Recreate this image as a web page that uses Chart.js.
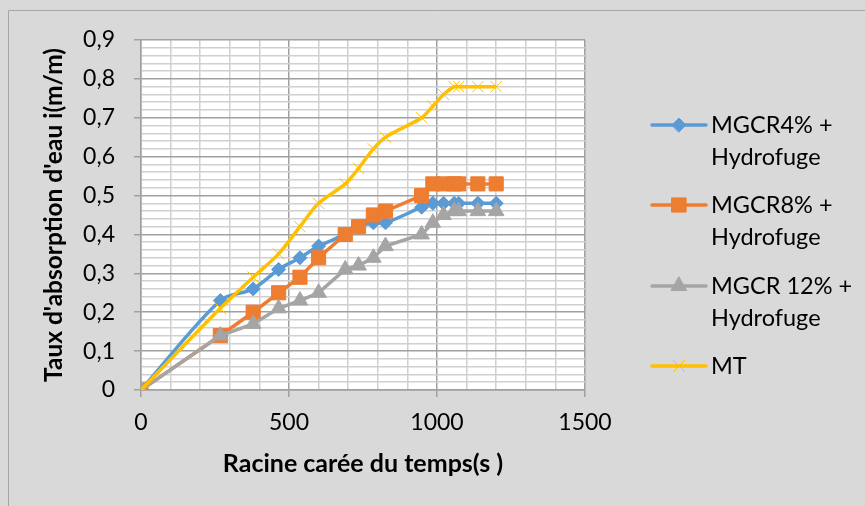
<!DOCTYPE html>
<html>
<head>
<meta charset="utf-8">
<script src="https://cdn.jsdelivr.net/npm/chart.js@4.4.1/dist/chart.umd.min.js"></script>
<style>
  html, body { margin: 0; padding: 0; background: #d9d9d9; }
  #wrap { width: 865px; height: 506px; position: relative; }
</style>
</head>
<body>
<div id="wrap"><canvas id="absChart"></canvas></div>
<script>
// square root of time (s^0.5)
const sqrtTime = [0, 268, 379, 465, 537, 600, 690, 735, 785, 826, 948, 986, 1022, 1058, 1073, 1138, 1200];

const mgcr4 = [0, 0.23, 0.26, 0.31, 0.34, 0.37, 0.40, 0.42, 0.43, 0.43, 0.47, 0.48, 0.48, 0.48, 0.48, 0.48, 0.48];
const mgcr8 = [0, 0.14, 0.20, 0.25, 0.29, 0.34, 0.40, 0.42, 0.45, 0.46, 0.50, 0.53, 0.53, 0.53, 0.53, 0.53, 0.53];
const mgcr12 = [0, 0.14, 0.17, 0.21, 0.23, 0.25, 0.31, 0.32, 0.34, 0.37, 0.40, 0.43, 0.45, 0.46, 0.46, 0.46, 0.46];
const mt = [0, 0.21, 0.29, 0.35, 0.42, 0.48, 0.53, 0.57, 0.62, 0.65, 0.70, 0.73, 0.76, 0.78, 0.78, 0.78, 0.78];

const seriesNames = [
  ["MGCR4% +", "Hydrofuge"],
  ["MGCR8% +", "Hydrofuge"],
  ["MGCR 12% +", "Hydrofuge"],
  ["MT"]
];

const FONT = "Lato, 'Open Sans', sans-serif";

function points(values) {
  return values.map((v, i) => ({ x: sqrtTime[i], y: v }));
}

function isMajorY(v) {
  return Math.abs(v * 10 - Math.round(v * 10)) < 1e-6;
}

// grey page, white plot area, thin frame on the top and left
const background = {
  id: "background",
  beforeDraw(chart) {
    const { ctx, chartArea: a } = chart;
    ctx.save();
    ctx.fillStyle = "#d9d9d9";
    ctx.fillRect(0, 0, chart.width, chart.height);
    ctx.strokeStyle = "#a6a6a6";
    ctx.lineWidth = 1;
    ctx.beginPath();
    ctx.moveTo(8.5, chart.height);
    ctx.lineTo(8.5, 10.5);
    ctx.lineTo(chart.width, 10.5);
    ctx.stroke();
    ctx.fillStyle = "#ffffff";
    ctx.fillRect(a.left, a.top, a.right - a.left, a.bottom - a.top);
    ctx.restore();
  }
};

// legend on the right, two-line labels
const sideLegend = {
  id: "sideLegend",
  afterDraw(chart) {
    const ctx = chart.ctx;
    const x0 = 652, x1 = 706, tx = 711;
    const rows = [125, 205, 286, 366];
    ctx.save();
    chart.data.datasets.forEach((ds, i) => {
      const y = rows[i];
      ctx.strokeStyle = ds.borderColor;
      ctx.lineWidth = ds.borderWidth;
      ctx.lineCap = "round";
      ctx.beginPath();
      ctx.moveTo(x0, y);
      ctx.lineTo(x1, y);
      ctx.stroke();
      ctx.fillStyle = ds.pointBackgroundColor;
      ctx.strokeStyle = ds.pointBorderColor;
      ctx.lineWidth = ds.pointBorderWidth;
      Chart.helpers.drawPoint(ctx, {
        pointStyle: ds.pointStyle,
        radius: ds.pointRadius,
        borderWidth: ds.pointBorderWidth,
        rotation: 0
      }, (x0 + x1) / 2, y);
      ctx.fillStyle = "#000000";
      ctx.font = "23.5px " + FONT;
      ctx.textAlign = "left";
      ctx.textBaseline = "middle";
      seriesNames[i].forEach((line, k) => {
        ctx.fillText(line, tx, y + k * 32);
      });
    });
    ctx.restore();
  }
};

const ctx = document.getElementById("absChart").getContext("2d");

const absChart = new Chart(ctx, {
  type: "line",
  data: {
    datasets: [
      {
        label: seriesNames[0].join(" "),
        data: points(mgcr4),
        borderColor: "#5b9bd5",
        backgroundColor: "#5b9bd5",
        borderWidth: 3.5,
        tension: 0.3,
        pointStyle: "rectRot",
        pointRadius: 7,
        pointBackgroundColor: "#5b9bd5",
        pointBorderColor: "#5b9bd5",
        pointBorderWidth: 1,
        order: 4
      },
      {
        label: seriesNames[1].join(" "),
        data: points(mgcr8),
        borderColor: "#ed7d31",
        backgroundColor: "#ed7d31",
        borderWidth: 3.5,
        tension: 0,
        pointStyle: "rect",
        pointRadius: 10,
        pointBackgroundColor: "#ed7d31",
        pointBorderColor: "#ed7d31",
        pointBorderWidth: 1,
        order: 3
      },
      {
        label: seriesNames[2].join(" "),
        data: points(mgcr12),
        borderColor: "#a5a5a5",
        backgroundColor: "#a5a5a5",
        borderWidth: 3.5,
        tension: 0,
        pointStyle: "triangle",
        pointRadius: 9,
        pointBackgroundColor: "#a5a5a5",
        pointBorderColor: "#a5a5a5",
        pointBorderWidth: 1,
        order: 2
      },
      {
        label: seriesNames[3].join(" "),
        data: points(mt),
        borderColor: "#ffc000",
        backgroundColor: "#ffc000",
        borderWidth: 3.5,
        tension: 0.3,
        pointStyle: "crossRot",
        pointRadius: 8,
        pointBackgroundColor: "#ffc000",
        pointBorderColor: "#ffc000",
        pointBorderWidth: 1,
        order: 1
      }
    ]
  },
  options: {
    responsive: true,
    maintainAspectRatio: false,
    animation: false,
    layout: { padding: { left: 8, right: 280, top: 40, bottom: 0 } },
    scales: {
      x: {
        type: "linear",
        min: 0,
        max: 1500,
        afterFit: (scale) => { scale.height = 116; },
        title: {
          display: true,
          text: "Racine carée du temps(s )",
          color: "#000000",
          font: { family: FONT, size: 25, weight: "bold" },
          padding: { top: 0, bottom: 27 }
        },
        ticks: {
          stepSize: 100,
          autoSkip: false,
          maxRotation: 0,
          color: "#000000",
          padding: 12,
          font: { family: FONT, size: 23 },
          callback: (v) => (v % 500 === 0 ? String(v) : "")
        },
        grid: {
          color: (c) => (c.tick && c.tick.value % 500 === 0 ? "#a0a0a0" : "#d0d0d0"),
          lineWidth: 1.5,
          tickColor: (c) => (c.tick && c.tick.value % 500 === 0 ? "#a0a0a0" : "rgba(0,0,0,0)"),
          tickLength: 7
        },
        border: { color: "#a0a0a0", width: 1.5 }
      },
      y: {
        min: 0,
        max: 0.9,
        afterFit: (scale) => { scale.width = 133; },
        title: {
          display: true,
          text: "Taux d'absorption d'eau i(m/m)",
          color: "#000000",
          font: { family: FONT, size: 24.5, weight: "bold" },
          padding: { top: 31, bottom: 0 }
        },
        ticks: {
          stepSize: 0.02,
          autoSkip: false,
          color: "#000000",
          padding: 19,
          font: { family: FONT, size: 23 },
          callback: (v) => {
            if (!isMajorY(v)) return "";
            return v === 0 ? "0" : v.toFixed(1).replace(".", ",");
          }
        },
        grid: {
          color: (c) => (c.tick && isMajorY(c.tick.value) ? "#a0a0a0" : "#d0d0d0"),
          lineWidth: 1.5,
          tickColor: (c) => (c.tick && isMajorY(c.tick.value) ? "#a0a0a0" : "rgba(0,0,0,0)"),
          tickLength: 7
        },
        border: { color: "#a0a0a0", width: 1.5 }
      }
    },
    plugins: {
      legend: { display: false },
      tooltip: { enabled: false }
    }
  },
  plugins: [background, sideLegend]
});
</script>
</body>
</html>
